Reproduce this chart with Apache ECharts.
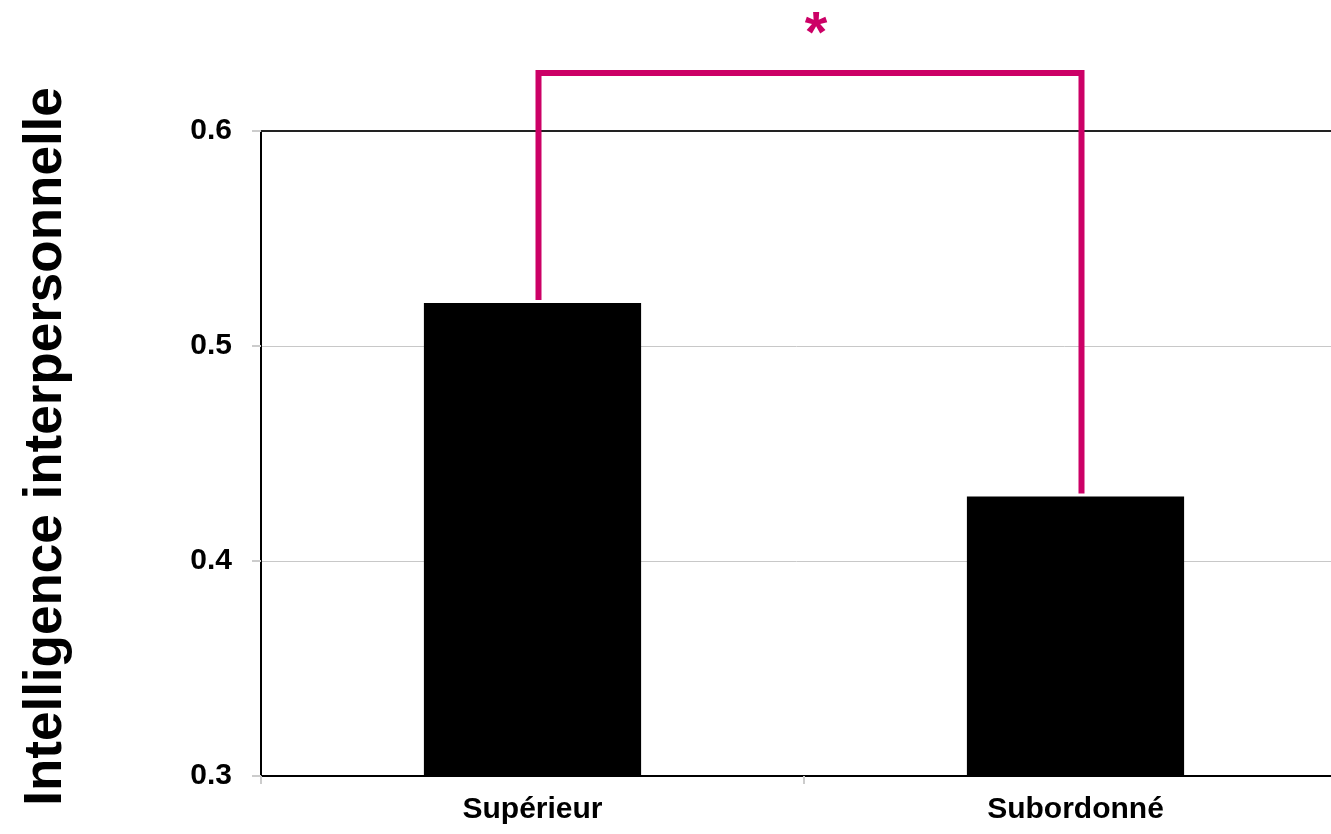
<!DOCTYPE html>
<html><head><meta charset="utf-8">
<script src="https://cdn.jsdelivr.net/npm/echarts@6/dist/echarts.min.js"></script>
<style>html,body{margin:0;padding:0;background:#fff}#c{width:1331px;height:834px}</style>
</head><body><div id="c"></div>
<script>
const categories = ['Supérieur', 'Subordonné'];
const values = [0.52, 0.43];
const bracketLevel = 0.627;
const significance = '*';
const yName = 'Intelligence interpersonnelle';

const chart = echarts.init(document.getElementById('c'));
chart.setOption({
  animation: false,
  grid: {left: 261, width: 1086, top: 131, height: 645, containLabel: false, outerBoundsMode: 'none'},
  xAxis: {
    type: 'category', data: categories,
    axisLine: {lineStyle: {color: '#000', width: 2}},
    axisTick: {show: true, length: 8, lineStyle: {color: '#ccc', width: 2}},
    axisLabel: {color: '#000', fontWeight: 'bold', fontSize: 30, fontFamily: 'Liberation Sans, Arial', margin: 19}
  },
  yAxis: {
    type: 'value', min: 0.3, max: 0.6, interval: 0.1,
    name: yName, nameLocation: 'middle', nameGap: 188, nameRotate: 90,
    nameTextStyle: {color: '#000', fontWeight: 'bold', fontSize: 53, fontFamily: 'Liberation Sans, Arial', padding: [0, 0, 0, 14]},
    axisLine: {show: true, lineStyle: {color: '#000', width: 2}},
    axisTick: {show: true, length: 9, lineStyle: {color: '#ccc', width: 2}},
    axisLabel: {color: '#000', fontWeight: 'bold', fontSize: 30, fontFamily: 'Liberation Sans, Arial', margin: 29,
      formatter: v => v.toFixed(1)},
    splitLine: {show: true, lineStyle: {color: '#c8c8c8', width: 1}}
  },
  series: [{
    type: 'bar', data: values, barWidth: '40%',
    itemStyle: {color: '#000'},
    markLine: {silent: true, symbol: 'none', label: {show: false},
      lineStyle: {color: '#222', width: 2, type: 'solid'},
      data: [{yAxis: 0.6}]}
  }, {
    type: 'custom', clip: false, silent: true, z: 5,
    data: [[0, values[0], 1, values[1], bracketLevel]],
    renderItem: function (params, api) {
      const a = api.coord([api.value(0), api.value(1)]);
      const b = api.coord([api.value(2), api.value(3)]);
      const t = api.coord([0, api.value(4)]);
      const gap = 3;
      return {type: 'group', children: [{
        type: 'polyline',
        shape: {points: [[a[0] + 6, a[1] - gap], [a[0] + 6, t[1]], [b[0] + 6, t[1]], [b[0] + 6, b[1] - gap]]},
        style: {stroke: '#cc0066', lineWidth: 6, fill: null, lineJoin: 'miter'}
      }, {
        type: 'text',
        style: {text: significance, x: (a[0] + b[0]) / 2 + 12, y: t[1] - 37, align: 'center', verticalAlign: 'middle',
          fill: '#cc0066', font: 'bold 58px Liberation Sans, Arial'}
      }]};
    }
  }]
});
</script></body></html>
